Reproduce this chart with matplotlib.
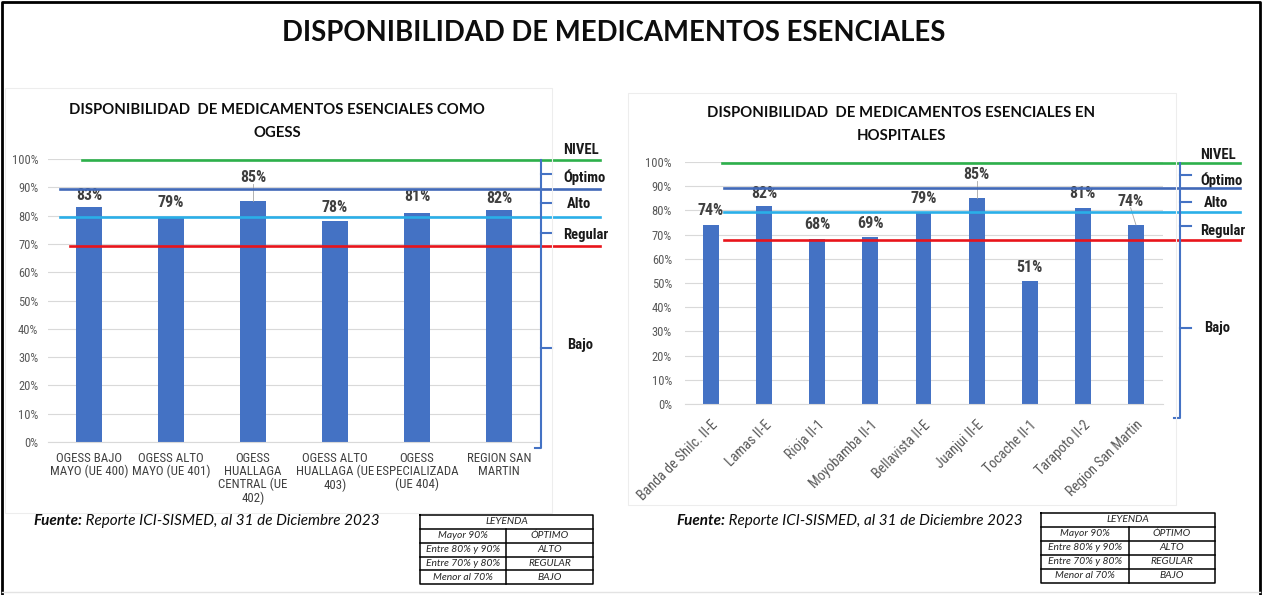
import matplotlib.pyplot as plt
from matplotlib import font_manager
from matplotlib.transforms import blended_transform_factory
from matplotlib.patches import Rectangle
from matplotlib.lines import Line2D

W, H = 1263, 595

# data
ogess_cats = ['OGESS BAJO\nMAYO (UE 400)', 'OGESS ALTO\nMAYO (UE 401)',
              'OGESS\nHUALLAGA\nCENTRAL (UE\n402)', 'OGESS ALTO\nHUALLAGA (UE\n403)',
              'OGESS\nESPECIALIZADA\n(UE 404)', 'REGION SAN\nMARTIN']
ogess_vals = [83, 79, 85, 78, 81, 82]

hosp_cats = ['Banda de Shilc. II-E', 'Lamas II-E', 'Rioja II-1', 'Moyobamba II-1',
             'Bellavista II-E', 'Juanjui II-E', 'Tocache II-1', 'Tarapoto II-2',
             'Region San Martin']
hosp_vals = [74, 82, 68, 69, 79, 85, 51, 81, 74]

yticks = list(range(0, 101, 10))
level_names = ['NIVEL', 'Óptimo', 'Alto', 'Regular', 'Bajo']
ogess_limits = [99.5, 89.3, 79.6, 69.2]
hosp_limits = [99.6, 89.2, 79.3, 67.9]

legend_rows = [('Mayor 90%', 'ÓPTIMO'), ('Entre 80% y 90%', 'ALTO'),
               ('Entre 70% y 80%', 'REGULAR'), ('Menor al 70%', 'BAJO')]

main_title = 'DISPONIBILIDAD DE MEDICAMENTOS ESENCIALES'
ogess_title = 'DISPONIBILIDAD  DE MEDICAMENTOS ESENCIALES COMO\nOGESS'
hosp_title = 'DISPONIBILIDAD  DE MEDICAMENTOS ESENCIALES EN\nHOSPITALES'
source_bold = 'Fuente:'
source_rest = ' Reporte ICI-SISMED, al 31 de Diciembre 2023'

# label offsets above each bar (in % units) - positions only
ogess_dy = [4.1, 5.5, 8.6, 5.0, 5.6, 4.2]
hosp_dy = [6.0, 4.8, 6.0, 5.7, 6.1, 9.9, 5.5, 5.9, 9.7]
hosp_dx = [0, 0, 0, 0, 0, 0, 0, 0, -0.1]

# pick a narrow font if one is installed, else plain Arial-like at smaller size
installed = {f.name for f in font_manager.fontManager.ttflist}
narrow_name = None
for cand in ['Liberation Sans Narrow', 'Arial Narrow', 'Roboto Condensed',
             'Open Sans Condensed', 'DejaVu Sans Condensed', 'Noto Sans Condensed']:
    if cand in installed:
        narrow_name = cand
        break
NSTRETCH = 'normal'
if narrow_name is None:
    cond = [f for f in font_manager.fontManager.ttflist if f.stretch in ('condensed', 'semi-condensed')]
    if cond:
        narrow_name = cond[0].name
        NSTRETCH = cond[0].stretch
NS = 1.0
if narrow_name is None:
    narrow_name = 'Liberation Sans'
    NS = 0.86
NARROW = [narrow_name, 'DejaVu Sans']
TITLE = ['Lato', 'DejaVu Sans']
BAR = '#4472C4'
LINE_COLORS = ['#2DB04B', '#4169B8', '#2AAFE8', '#E8141B']


def fx(x):
    return x / W


def fy(y):
    return 1 - y / H


def nf(size, **kw):
    return dict(family=NARROW, fontsize=size * NS, fontstretch=NSTRETCH, **kw)


fig = plt.figure(figsize=(W / 100, H / 100), dpi=100)


def draw_chart(box, cats, vals, dy, dx, limits, line_x, brk, tick_ys, text_ys,
               rotate, ylabel_pad, xlabel_pad):
    l, r, t, b = box
    ax = fig.add_axes([fx(l), fy(b), (r - l) / W, (b - t) / H])
    x = list(range(len(cats)))
    ax.bar(x, vals, width=0.32 if not rotate else 0.3, color=BAR, zorder=2)
    ax.set_xlim(-0.5, len(cats) - 0.5)
    ax.set_ylim(0, 100)
    ax.set_yticks(yticks)
    ax.set_yticklabels([f'{t}%' for t in yticks], color='#595959', **nf(9))
    ax.set_xticks(x)
    if rotate:
        ax.set_xticklabels(cats, rotation=45, ha='right', rotation_mode='anchor',
                           color='#595959', **nf(10.2))
    else:
        ax.set_xticklabels(cats, color='#404040', linespacing=1.0, va='top', **nf(9.3))
    ax.tick_params(length=0)
    ax.tick_params(axis='y', pad=ylabel_pad)
    ax.tick_params(axis='x', pad=xlabel_pad)
    ax.yaxis.grid(True, color='#D9D9D9', lw=0.8)
    ax.set_axisbelow(True)
    for s in ['top', 'right', 'left']:
        ax.spines[s].set_visible(False)
    ax.spines['bottom'].set_color('#D9D9D9')

    for i, v in enumerate(vals):
        ty = v + dy[i]
        tx = i + dx[i]
        ax.text(tx, ty, f'{v}%', ha='center', va='center', weight='bold',
                color='#404040', zorder=5, **nf(11.5))
        if dy[i] > 8:
            ax.plot([tx, i], [ty - 2.6, v], color='#A6A6A6', lw=0.6, zorder=4)

    tr = blended_transform_factory(fig.transFigure, ax.transData)
    for (x0, x1), y, c in zip(line_x, limits, LINE_COLORS):
        ax.add_line(Line2D([fx(x0), fx(x1)], [y, y], transform=tr, color=c,
                           lw=1.9, clip_on=False, zorder=6))

    bx, btop, bbot, tx0 = brk
    ax.add_line(Line2D([fx(bx), fx(bx), fx(bx - 6)], [btop, bbot, bbot], transform=tr,
                       color=BAR, lw=1.5, clip_on=False, zorder=7))
    for ty in tick_ys:
        ax.add_line(Line2D([fx(bx), fx(bx + 11)], [ty, ty], transform=tr,
                           color=BAR, lw=1.5, clip_on=False, zorder=7))
    for name, ty in zip(level_names, text_ys):
        xoff = 4 if name in ('Alto', 'Bajo') else 0
        ax.text(fx(tx0 + xoff), ty, name, transform=tr, ha='left', va='center',
                weight='bold', color='#1A1A1A', **nf(10.5))
    return ax


# left chart
draw_chart((48, 540, 159, 442), ogess_cats, ogess_vals, ogess_dy, [0] * 6,
           ogess_limits, [(82, 600), (60, 600), (60, 600), (70, 600)],
           (541, 99.5, -2.2, 563), [94.7, 84.4, 73.9, 33.2],
           [103.3, 93.6, 84.1, 73.1, 34.3], False, 7, 7)

# right chart
draw_chart((684.5, 1162.5, 162, 404), hosp_cats, hosp_vals, hosp_dy, hosp_dx,
           hosp_limits, [(722, 1240), (724, 1240), (724, 1240), (724, 1240)],
           (1180, 99.6, -5.8, 1200), [94.6, 83.5, 73.6, 31.4],
           [102.9, 92.6, 83.0, 71.5, 31.4], True, 9, 10)

# titles
fig.text(fx(614), fy(33), main_title, ha='center', va='center', family=TITLE,
         weight='bold', fontsize=19.8, color='#0D0D0D')
fig.text(fx(277), fy(121.5), ogess_title, ha='center', va='center', family=TITLE,
         weight='bold', fontsize=10.75, color='#0D0D0D', linespacing=1.75)
fig.text(fx(901), fy(124.5), hosp_title, ha='center', va='center', family=TITLE,
         weight='bold', fontsize=10.75, color='#0D0D0D', linespacing=1.75)

# faint chart panels
fig.patches.append(Rectangle((fx(5), fy(513)), fx(552) - fx(5), fy(88) - fy(513),
                             transform=fig.transFigure, fill=False, ec='#EDEDED', lw=0.8))
fig.patches.append(Rectangle((fx(628), fy(505)), fx(1176) - fx(628), fy(93) - fy(505),
                             transform=fig.transFigure, fill=False, ec='#EDEDED', lw=0.8))

# source notes
fig.canvas.draw()
rend = fig.canvas.get_renderer()
for x0 in (33, 676):
    t = fig.text(fx(x0), fy(521), source_bold, ha='left', va='center', family=TITLE,
                 weight='bold', style='italic', fontsize=11, color='#0D0D0D')
    bb = t.get_window_extent(rend)
    fig.text(bb.x1 / fig.dpi / fig.get_figwidth(), fy(521), source_rest, ha='left',
             va='center', family=TITLE, style='italic', fontsize=11, color='#0D0D0D')


# legend tables
def draw_table(x0, xm, x1, ys):
    kw = dict(transform=fig.transFigure, color='#000000', lw=1.1)
    fig.lines.append(Line2D([fx(x0), fx(x1), fx(x1), fx(x0), fx(x0)],
                            [fy(ys[0]), fy(ys[0]), fy(ys[-1]), fy(ys[-1]), fy(ys[0])], **kw))
    for y in ys[1:-1]:
        fig.lines.append(Line2D([fx(x0), fx(x1)], [fy(y), fy(y)], **kw))
    fig.lines.append(Line2D([fx(xm), fx(xm)], [fy(ys[1]), fy(ys[-1])], **kw))
    tk = dict(ha='center', va='center', family=TITLE, style='italic', fontsize=7.4,
              color='#262626')
    fig.text(fx((x0 + x1) / 2), fy((ys[0] + ys[1]) / 2), 'LEYENDA', **tk)
    for k, (a, b) in enumerate(legend_rows):
        yc = fy((ys[k + 1] + ys[k + 2]) / 2)
        fig.text(fx((x0 + xm) / 2), yc, a, **tk)
        fig.text(fx((xm + x1) / 2), yc, b, **tk)


draw_table(420, 506, 593, [515, 529, 543, 557, 570, 584])
draw_table(1041, 1129, 1215, [513, 527, 541, 555, 569, 583])

# outer frame
fk = dict(transform=fig.transFigure, color='#000000', lw=2)
fig.lines.append(Line2D([fx(1.5), fx(1.5), fx(1259.5), fx(1259.5)],
                        [fy(594), fy(1.5), fy(1.5), fy(594)], **fk))
fig.lines.append(Line2D([fx(1.5), fx(1259.5)], [fy(592), fy(592)],
                        transform=fig.transFigure, color='#E3E3E3', lw=1))

fig.savefig('out.png', dpi=100)
